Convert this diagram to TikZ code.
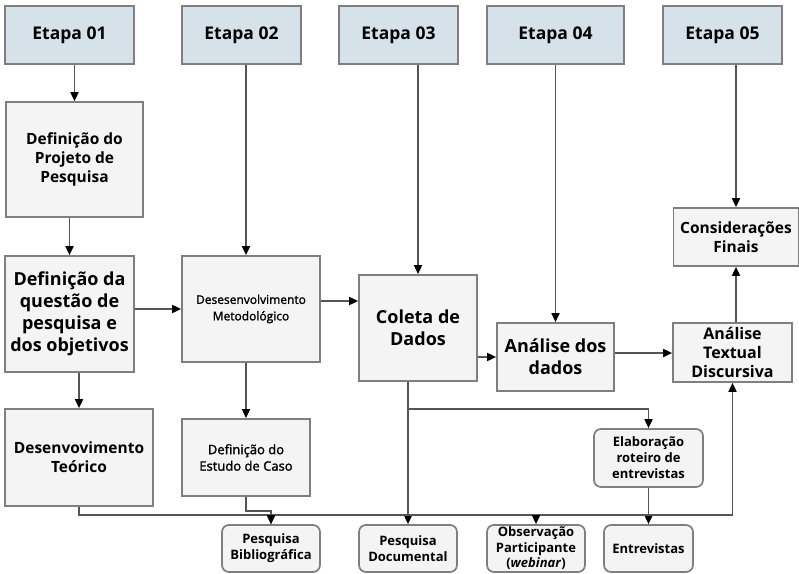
\documentclass[tikz,border=0pt]{standalone}
\usepackage{fontspec}
\setmainfont{Open Sans}
\newfontfamily\semib{Open Sans}[FakeBold=1.6]
\usetikzlibrary{arrows.meta}
\definecolor{etapafill}{HTML}{D5E2E9}
\definecolor{boxfill}{HTML}{F4F4F4}
\definecolor{bordergray}{HTML}{7F7F7F}
\definecolor{linegray}{HTML}{555555}
\newcommand{\fs}[2]{\fontsize{#1}{#2}\selectfont}
\tikzset{
  etapa/.style={draw=bordergray, fill=etapafill, line width=1.8pt,
    minimum height=58pt, inner sep=0pt, font=\bfseries\fs{17.5}{20}},
  box/.style={draw=bordergray, fill=boxfill, line width=1.7pt,
    inner sep=0pt, align=center},
  rbox/.style={box, rounded corners=7pt},
  conn/.style={draw=linegray, line width=1.7pt},
  arr/.style={conn, -{Triangle[length=9pt,width=8pt,color=black]}},
}
\begin{document}
\begin{tikzpicture}[x=1pt,y=-1pt]
\useasboundingbox (0,0) rectangle (799,573);

% stage headers
\node[etapa, minimum width=129pt] (E1) at (69.5,35) {Etapa 01};
\node[etapa, minimum width=119pt] (E2) at (241.5,35) {Etapa 02};
\node[etapa, minimum width=119pt] (E3) at (398.5,35) {Etapa 03};
\node[etapa, minimum width=137pt] (E4) at (555.5,35) {Etapa 04};
\node[etapa, minimum width=119pt] (E5) at (722.5,35) {Etapa 05};

% process boxes
\node[box, minimum width=137pt, minimum height=115pt, font=\bfseries\fs{15.5}{19}] (DP) at (74.5,159.5) {Definição do\\Projeto de\\Pesquisa};
\node[box, minimum width=129pt, minimum height=116pt, font=\bfseries\fs{18}{22}] (DQ) at (69.5,314) {Definição da\\questão de\\pesquisa e\\dos objetivos};
\node[box, minimum width=138pt, minimum height=106pt, font=\semib\fs{12}{16.5}] (DM) at (251,309) {Desesenvolvimento\\Metodológico};
\node[box, minimum width=118pt, minimum height=106pt, font=\bfseries\fs{18}{22}] (CD) at (418,328) {Coleta de\\Dados};
\node[box, minimum width=117pt, minimum height=68pt, font=\bfseries\fs{18}{22}] (AD) at (555.5,357) {Análise dos\\dados};
\node[box, minimum width=119pt, minimum height=59pt, font=\bfseries\fs{16}{19}] (AT) at (732.5,352.5) {Análise\\Textual\\Discursiva};
\node[box, minimum width=125pt, minimum height=58pt, font=\bfseries\fs{15.5}{19}] (CF) at (736,237) {Considerações\\Finais};
\node[box, minimum width=148pt, minimum height=97pt, font=\bfseries\fs{15.5}{19}] (DT) at (79,457.5) {Desenvovimento\\Teórico};
\node[box, minimum width=128pt, minimum height=77pt, font=\semib\fs{13}{16.5}] (DE) at (246,457.5) {Definição do\\Estudo de Caso};

% data sources
\node[rbox, minimum width=109pt, minimum height=58pt, font=\bfseries\fs{13}{16}] (EL) at (648.5,458) {Elaboração\\roteiro de\\entrevistas};
\node[rbox, minimum width=98pt, minimum height=47pt, font=\bfseries\fs{13}{16}] (PB) at (271,548.5) {Pesquisa\\Bibliográfica};
\node[rbox, minimum width=98pt, minimum height=47pt, font=\bfseries\fs{13}{15.5}] (PD) at (408,548.5) {Pesquisa\\Documental};
\node[rbox, minimum width=98pt, minimum height=47pt, font=\bfseries\fs{13}{15.5}] (OP) at (536,548.5) {Observação\\Participante\\(\textit{webinar})};
\node[rbox, minimum width=89pt, minimum height=47pt, font=\bfseries\fs{13}{16}] (EN) at (648.5,548.5) {Entrevistas};

% junction rows
\coordinate (bus) at (0,515);
\coordinate (cbus) at (0,409);
\coordinate (dbus) at (0,511);
\coordinate (mrow) at (0,301);
\coordinate (arow) at (0,353);

% stage arrows
\draw[arr] (E1.south -| DP.north) -- (DP.north);
\draw[arr] (E2.south -| DE.north) -- (DM.north -| DE.north);
\draw[arr] (E3.south -| CD.north) -- (CD.north);
\draw[arr] (E4.south -| AD.north) -- (AD.north);
\draw[arr] (E5.south -| CF.north) -- (CF.north);

% main flow
\draw[arr] (DP.south -| DQ.north) -- (DQ.north);
\draw[arr] (DQ.south -| DT.north) -- (DT.north);
\draw[arr] (DQ.east |- DM.west) -- (DM.west);
\draw[arr] (DM.east |- mrow) -- (CD.west |- mrow);
\draw[arr] (CD.east |- AD.west) -- (AD.west);
\draw[arr] (AD.east |- arow) -- (AT.west |- arow);
\draw[arr] (AT.north -| CF.south) -- (CF.south);
\draw[arr] (DM.south -| DE.north) -- (DE.north);

% collection branches
\draw[arr] (CD.south -| PD.north) -- (PD.north);
\draw[arr] (CD.south -| PD.north) |- (cbus -| EL.north) -- (EL.north);
\draw[arr] (EL.south) -- (EN.north);
\draw[arr] (DE.south) |- (dbus -| PB.north) -- (PB.north);
\draw[arr] (DT.south) |- (bus -| AT.south) -- (AT.south);
\draw[arr] (bus -| PB.north) -- (PB.north);
\draw[arr] (bus -| OP.north) -- (OP.north);
\end{tikzpicture}
\end{document}
